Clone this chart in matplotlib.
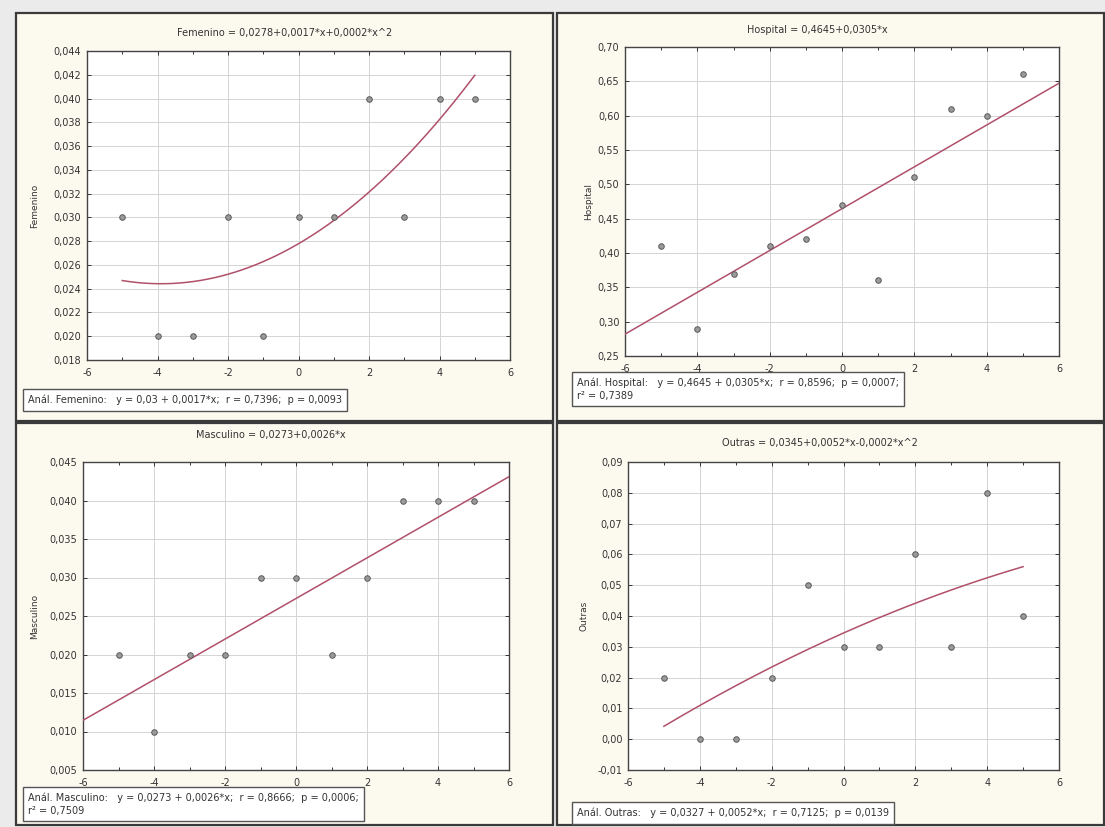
import numpy as np
import matplotlib
matplotlib.use("Agg")
import matplotlib.pyplot as plt
from matplotlib.patches import Rectangle
from matplotlib.ticker import MultipleLocator

# ---------------- data ----------------
x_vals = [-5, -4, -3, -2, -1, 0, 1, 2, 3, 4, 5]
femenino = [0.030, 0.020, 0.020, 0.030, 0.020, 0.030, 0.030, 0.040, 0.030, 0.040, 0.040]
hospital = [0.41, 0.29, 0.37, 0.41, 0.42, 0.47, 0.36, 0.51, 0.61, 0.60, 0.66]
masculino = [0.020, 0.010, 0.020, 0.020, 0.030, 0.030, 0.020, 0.030, 0.040, 0.040, 0.040]
outras = [0.02, 0.00, 0.00, 0.02, 0.05, 0.03, 0.03, 0.06, 0.03, 0.08, 0.04]

x_ticks = [-6, -4, -2, 0, 2, 4, 6]
x_ticklabels = ["-6", "-4", "-2", "0", "2", "4", "6"]

fem_yticks = [0.018, 0.020, 0.022, 0.024, 0.026, 0.028, 0.030, 0.032, 0.034,
              0.036, 0.038, 0.040, 0.042, 0.044]
fem_ylabels = ["0,018", "0,020", "0,022", "0,024", "0,026", "0,028", "0,030", "0,032",
               "0,034", "0,036", "0,038", "0,040", "0,042", "0,044"]
hos_yticks = [0.25, 0.30, 0.35, 0.40, 0.45, 0.50, 0.55, 0.60, 0.65, 0.70]
hos_ylabels = ["0,25", "0,30", "0,35", "0,40", "0,45", "0,50", "0,55", "0,60", "0,65", "0,70"]
mas_yticks = [0.005, 0.010, 0.015, 0.020, 0.025, 0.030, 0.035, 0.040, 0.045]
mas_ylabels = ["0,005", "0,010", "0,015", "0,020", "0,025", "0,030", "0,035", "0,040", "0,045"]
out_yticks = [-0.01, 0.00, 0.01, 0.02, 0.03, 0.04, 0.05, 0.06, 0.07, 0.08, 0.09]
out_ylabels = ["-0,01", "0,00", "0,01", "0,02", "0,03", "0,04", "0,05", "0,06", "0,07", "0,08", "0,09"]

titles = ["Femenino = 0,0278+0,0017*x+0,0002*x^2",
          "Hospital = 0,4645+0,0305*x",
          "Masculino = 0,0273+0,0026*x",
          "Outras = 0,0345+0,0052*x-0,0002*x^2"]
ylabels = ["Femenino", "Hospital", "Masculino", "Outras"]
boxes = ["Anál. Femenino:   y = 0,03 + 0,0017*x;  r = 0,7396;  p = 0,0093",
         "Anál. Hospital:   y = 0,4645 + 0,0305*x;  r = 0,8596;  p = 0,0007;\nr² = 0,7389",
         "Anál. Masculino:   y = 0,0273 + 0,0026*x;  r = 0,8666;  p = 0,0006;\nr² = 0,7509",
         "Anál. Outras:   y = 0,0327 + 0,0052*x;  r = 0,7125;  p = 0,0139"]

# ---------------- layout ----------------
W, H = 1105, 827
fig = plt.figure(figsize=(W / 100, H / 100), dpi=100)
fig.patch.set_facecolor("#ebebeb")

def frect(l, t, r, b):
    return [l / W, 1 - b / H, (r - l) / W, (b - t) / H]

panel_color = "#fcf9ef"
for (l, t, r, b) in [(16, 13, 553, 421), (557, 13, 1104, 421),
                     (16, 423, 553, 825), (557, 423, 1104, 825)]:
    fig.patches.append(Rectangle((l / W, 1 - b / H), (r - l) / W, (b - t) / H,
                                 transform=fig.transFigure, facecolor=panel_color,
                                 edgecolor="#3a3a3a", lw=1.6, zorder=-5))

axes_px = [(87, 51, 510, 360), (625, 47, 1059, 356), (83, 462, 509, 770), (628, 462, 1059, 770)]
ylims = [(0.018, 0.044), (0.25, 0.70), (0.005, 0.045), (-0.01, 0.09)]
yticks = [fem_yticks, hos_yticks, mas_yticks, out_yticks]
yticklabels = [fem_ylabels, hos_ylabels, mas_ylabels, out_ylabels]
series = [femenino, hospital, masculino, outras]
degree = [2, 1, 1, 2]
fit_range = [(-5, 5), (-6, 6), (-6, 6), (-5, 5)]
title_pos = [(285, 33), (817, 30), (271, 435), (820, 443)]
ylabel_x = [35, 589, 35, 584]
box_pos = [(28, 400), (577, 389), (28, 804), (577, 813)]

fit_color = "#b0506a"
for i in range(4):
    l, t, r, b = axes_px[i]
    ax = fig.add_axes(frect(l, t, r, b))
    ax.set_zorder(1)
    ax.set_facecolor("white")
    ax.set_xlim(-6, 6)
    ax.set_ylim(*ylims[i])
    ax.set_xticks(x_ticks)
    ax.set_xticklabels(x_ticklabels)
    ax.set_yticks(yticks[i])
    ax.set_yticklabels(yticklabels[i])
    ax.xaxis.set_minor_locator(MultipleLocator(1))
    ax.tick_params(which="both", direction="in", top=True, right=True,
                   labelsize=7, colors="#333333", length=3, width=0.7)
    ax.tick_params(which="minor", length=2)
    ax.tick_params(axis="x", pad=6)
    ax.tick_params(axis="y", pad=4)
    ax.grid(True, which="major", color="#d4d4d4", lw=0.7)
    ax.set_axisbelow(True)
    for sp in ax.spines.values():
        sp.set_color("#444444")
        sp.set_linewidth(1.0)
    xs = np.array(x_vals, dtype=float)
    ys = np.array(series[i], dtype=float)
    coef = np.polyfit(xs, ys, degree[i])
    xf = np.linspace(fit_range[i][0], fit_range[i][1], 200)
    ax.plot(xf, np.polyval(coef, xf), color=fit_color, lw=1.1, zorder=3)
    ax.plot(xs, ys, linestyle="none", marker="o", ms=4, mfc="#9a9a9a",
            mec="#5a5a5a", mew=0.7, zorder=4)

    tx, ty = title_pos[i]
    fig.text(tx / W, 1 - ty / H, titles[i], ha="center", va="center",
             fontsize=7, color="#333333")
    fig.text(ylabel_x[i] / W, 1 - ((t + b) / 2) / H, ylabels[i], ha="center",
             va="center", rotation=90, fontsize=6.5, color="#333333")
    bx, by = box_pos[i]
    fig.text(bx / W, 1 - by / H, boxes[i], ha="left", va="center", fontsize=7,
             color="#333333", linespacing=1.35, zorder=10,
             bbox=dict(boxstyle="square,pad=0.55", facecolor="white",
                       edgecolor="#555555", lw=1.0))

fig.savefig("out.png", dpi=100, facecolor=fig.get_facecolor())
